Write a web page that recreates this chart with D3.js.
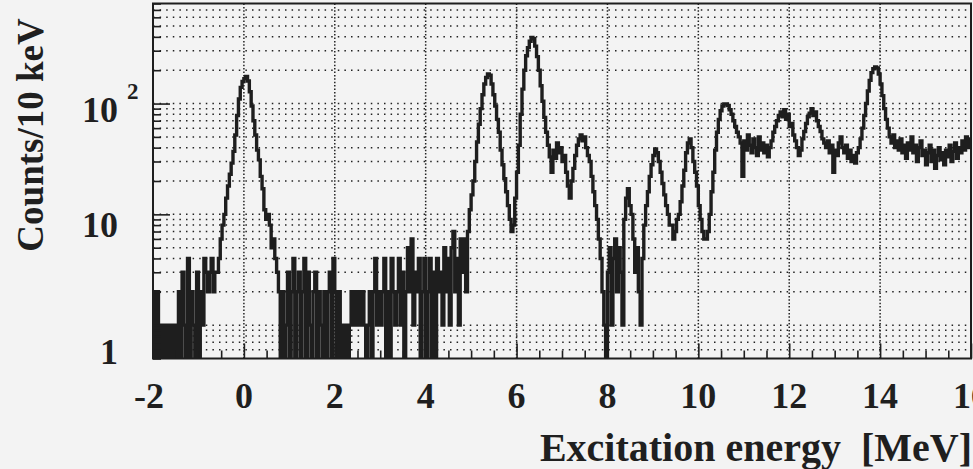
<!DOCTYPE html>
<html>
<head>
<meta charset="utf-8">
<script src="https://cdn.jsdelivr.net/npm/d3@7"></script>
<style>
  html, body { margin: 0; padding: 0; background: #f3f3f3; overflow: hidden; }
  svg { display: block; }
  text { font-family: "Liberation Serif", "Times New Roman", serif; font-weight: bold; fill: #1f1f1f; }
</style>
</head>
<body>
<div id="chart"></div>
<script>
// counts per 10 keV, one bin every 40 keV
let binWidth = 0.04
let segStart = [-2.00, -0.60, 0.80, 4.80, 7.64, 10.60]

let countsNeg = [2,0,2,0,1,0,1,0,1,0, 1,0,1,0,2,0,3,1,0,4, 0,2,1,0,3,0,2,1,4,3, 2,3,4,2,3]

let countsGs = [3,4,6,8,10,14,18,23,29,37, 52,78,110,140,158,168,176,160,128,95,
  70,52,38,31,22,17,11,9,10,8, 5,6,4,3,2]

let countsFlat = [
  0,2,0,1,3,0,2,4,0,2,
  3,0,2,4,0,3,1,0,2,3,
  0,2,1,0,2,0,2,3,0,4,
  2,0,2,0,1,0,1,0,1,2,
  1,2,1,2,1,2,1,0,1,2,
  0,2,4,1,2,1,2,4,0,2,
  0,4,2,1,2,4,1,3,0,2,
  5,2,6,1,3,2,4,0,2,4,
  0,2,4,0,3,0,4,2,3,1,
  5,2,4,1,5,7,2,4,1,6]

let counts5to7 = [
  3,6,2,7,11,15,20,30,45,65,
  90,120,150,172,185,180,150,120,95,72,
  55,38,28,21,16,12,9,7,8,14,
  24,42,80,135,200,270,320,365,395,385,
  330,265,200,145,105,75,55,42,33,24,
  38,32,44,36,40,30,34,24,18,14,
  20,26,34,42,48,52,46,50,40,34,
  30]

let counts8to10 = [
  22,16,12,9,6,4,2,1,0,3,
  5,1,4,6,2,5,3,1,9,14,
  17,12,10,6,3,5,2,1,4,8,
  12,16,22,28,34,39,36,30,24,19,
  15,12,10,8,8,6,7,9,10,13,
  18,25,36,44,48,40,30,24,18,12,
  9,7,6,6,7,10,16,24,38,55,
  72,86,95,99]

let counts11to16 = [
  99,96,88,80,70,62,55,50,44,22,
  46,38,52,42,36,48,40,34,50,38,
  44,36,42,33,40,46,55,62,70,78,
  84,76,88,72,80,62,66,52,46,40,
  34,38,48,56,66,76,82,90,78,84,
  70,62,56,48,44,40,46,36,42,24,
  38,34,44,50,40,36,42,32,38,30,
  34,29,36,40,48,60,78,100,130,162,
  190,206,214,210,185,150,118,90,72,60,
  50,44,52,40,46,38,48,36,42,32,
  44,38,50,36,42,30,40,46,34,38,
  28,36,42,30,38,26,34,40,31,36,
  28,38,33,42,30,37,44,32,40,36,
  46,38,50,40,48]

let xTicks = [-2, 0, 2, 4, 6, 8, 10, 12, 14, 16]
let yTicks = [1, 10, 100]
let yTickText = ['1', '10', '10']
let yTickExp = ['', '', '2']

let width = 973,
    height = 469

let plotL = 153, plotR = 971, plotT = 3.5, plotB = 358.5

let x = d3.scaleLinear().domain([-2, 16]).range([plotL, plotR])
let y = d3.scaleLog().domain([0.5, 800]).range([plotB, plotT])

let svg = d3.select('#chart')
  .append('svg')
    .attr('width', width)
    .attr('height', height)

// bins
let bins = []
;[countsNeg, countsGs, countsFlat, counts5to7, counts8to10, counts11to16].forEach((arr, k) => {
  arr.forEach((v, i) => bins.push({e: segStart[k] + i * binWidth, v: v}))
})
bins.push({e: 16, v: bins[bins.length - 1].v})

// dotted grid
let gridY = y.ticks().filter(v => v > 0.5 && v < 800)
svg.append('g')
  .selectAll('line')
  .data(gridY)
  .enter()
  .append('line')
    .attr('x1', plotL).attr('x2', plotR)
    .attr('y1', d => y(d)).attr('y2', d => y(d))
    .attr('stroke', '#222')
    .attr('stroke-width', 1.5)
    .attr('stroke-dasharray', '1.5,5.1')

svg.append('g')
  .selectAll('line')
  .data(d3.range(0, 15, 2))
  .enter()
  .append('line')
    .attr('x1', d => x(d)).attr('x2', d => x(d))
    .attr('y1', plotT).attr('y2', plotB)
    .attr('stroke', '#222')
    .attr('stroke-width', 1.5)
    .attr('stroke-dasharray', '1.5,1.9')

// spectrum
svg.append('clipPath').attr('id', 'plotclip')
  .append('rect')
    .attr('x', plotL).attr('y', plotT)
    .attr('width', plotR - plotL).attr('height', plotB - plotT)

let line = d3.line()
  .x(d => x(d.e))
  .y(d => y(Math.max(d.v, 0.5)))
  .curve(d3.curveStepAfter)

svg.append('path')
  .datum(bins)
  .attr('clip-path', 'url(#plotclip)')
  .attr('d', line)
  .attr('fill', 'none')
  .attr('stroke', '#1e1e1e')
  .attr('stroke-width', 3.4)
  .attr('stroke-linejoin', 'miter')

// inside ticks
let xAxis = svg.append('g')
  .attr('transform', `translate(0,${plotB})`)
  .call(d3.axisBottom(x).tickValues(d3.range(-2, 16.01, 0.5)).tickSizeInner(-8).tickSizeOuter(0).tickFormat(''))
xAxis.select('.domain').remove()
xAxis.selectAll('.tick line')
  .attr('y2', d => (Math.abs(d % 2) < 1e-6 ? -15 : -8))
  .attr('stroke', '#1e1e1e')
  .attr('stroke-width', 1.6)

let yAxis = svg.append('g')
  .attr('transform', `translate(${plotL},0)`)
  .call(d3.axisLeft(y).tickValues(y.ticks()).tickSizeInner(-8).tickSizeOuter(0).tickFormat(''))
yAxis.select('.domain').remove()
yAxis.selectAll('.tick line')
  .attr('x2', d => (yTicks.includes(d) ? 17 : 8))
  .attr('stroke', '#1e1e1e')
  .attr('stroke-width', 1.6)

// frame
svg.append('rect')
  .attr('x', plotL).attr('y', plotT)
  .attr('width', plotR - plotL).attr('height', plotB - plotT)
  .attr('fill', 'none')
  .attr('stroke', '#1e1e1e')
  .attr('stroke-width', 2)

// tick labels
svg.append('g')
  .selectAll('text')
  .data(xTicks)
  .enter()
  .append('text')
    .attr('x', d => x(d) - (d < 0 ? 4 : 0))
    .attr('y', 408)
    .attr('text-anchor', 'middle')
    .style('font-size', '36px')
    .text(d => d)

let yLabelDy = [39, 23, 18]
yTicks.forEach((v, i) => {
  svg.append('text')
    .attr('x', 118)
    .attr('y', y(v) + yLabelDy[i])
    .attr('text-anchor', 'end')
    .style('font-size', '36px')
    .text(yTickText[i])
  if (yTickExp[i]) {
    svg.append('text')
      .attr('x', 127)
      .attr('y', y(v) + yLabelDy[i] - 23)
      .style('font-size', '23px')
      .text(yTickExp[i])
  }
})

// axis titles
svg.append('text')
  .attr('transform', 'translate(43,135) rotate(-90)')
  .attr('text-anchor', 'middle')
  .style('font-size', '37px')
  .text('Counts/10 keV')

svg.append('text')
  .attr('x', 972)
  .attr('y', 461)
  .attr('text-anchor', 'end')
  .style('font-size', '40px')
  .text('Excitation energy \u00a0[MeV]')
</script>
</body>
</html>
